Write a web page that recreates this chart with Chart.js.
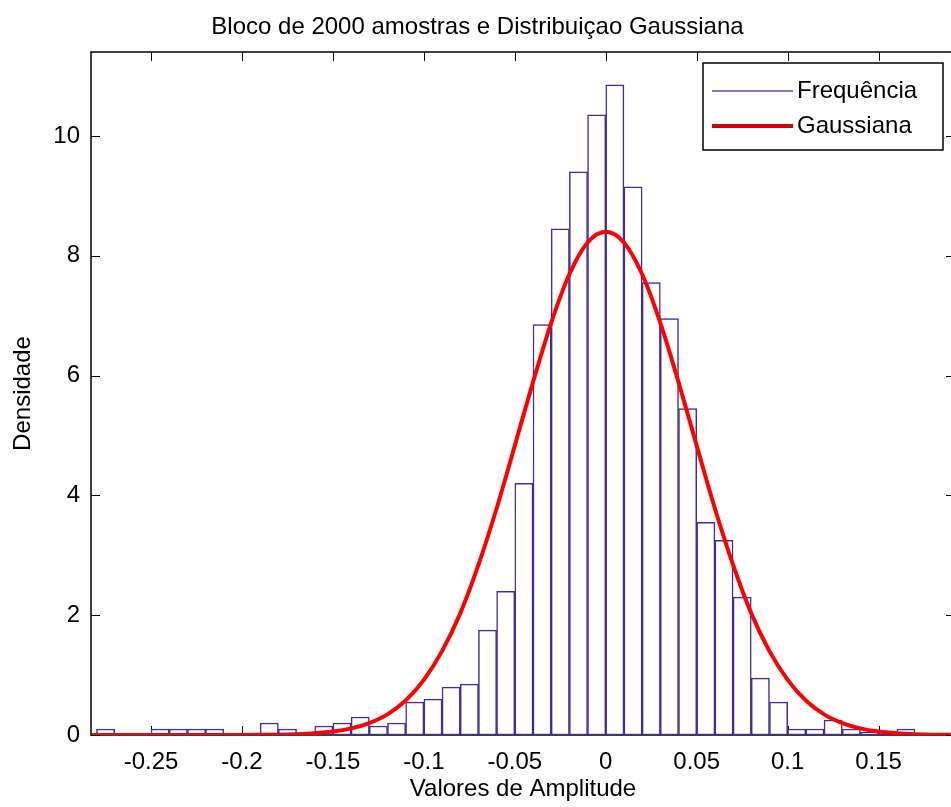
<!DOCTYPE html>
<html>
<head>
<meta charset="utf-8">
<script src="https://cdn.jsdelivr.net/npm/chart.js"></script>
<style>
  html, body { margin: 0; padding: 0; background: #fff; overflow: hidden; }
</style>
</head>
<body>
<canvas id="grafico" width="960" height="807"></canvas>
<script>
// centros das classes do histograma (largura 0.01)
const centros = [-0.275, -0.265, -0.255, -0.245, -0.235, -0.225, -0.215, -0.205, -0.195, -0.185,
                 -0.175, -0.165, -0.155, -0.145, -0.135, -0.125, -0.115, -0.105, -0.095, -0.085,
                 -0.075, -0.065, -0.055, -0.045, -0.035, -0.025, -0.015, -0.005, 0.005, 0.015,
                 0.025, 0.035, 0.045, 0.055, 0.065, 0.075, 0.085, 0.095, 0.105, 0.115,
                 0.125, 0.135, 0.145, 0.155, 0.165];
const densidade = [0.1, 0, 0, 0.1, 0.1, 0.1, 0.1, 0, 0, 0.2,
                   0.1, 0, 0.15, 0.2, 0.3, 0.15, 0.2, 0.55, 0.6, 0.8,
                   0.85, 1.75, 2.4, 4.2, 6.85, 8.45, 9.4, 10.35, 10.85, 9.15,
                   7.55, 6.95, 5.45, 3.55, 3.25, 2.3, 0.95, 0.55, 0.1, 0.1,
                   0.25, 0.1, 0.05, 0.05, 0.1];

// curva gaussiana
const gaussX = [-0.29, -0.28, -0.27, -0.26, -0.25, -0.24, -0.23, -0.22, -0.21, -0.2, -0.19,
                -0.18, -0.17, -0.16, -0.15, -0.14, -0.13, -0.12, -0.11, -0.1, -0.09,
                -0.08, -0.07, -0.06, -0.05, -0.04, -0.03, -0.02, -0.01, 0, 0.01,
                0.02, 0.03, 0.04, 0.05, 0.06, 0.07, 0.08, 0.09, 0.1, 0.11,
                0.12, 0.13, 0.14, 0.15, 0.16, 0.17, 0.18, 0.19, 0.2];
const gaussY = [0, 0, 0, 0, 0, 0, 0, 0, 0, 0.001, 0.003,
                0.006, 0.014, 0.029, 0.057, 0.11, 0.2, 0.345, 0.575, 0.92, 1.4,
                2.03, 2.84, 3.78, 4.83, 5.89, 6.88, 7.69, 8.22, 8.4, 8.22,
                7.69, 6.88, 5.89, 4.83, 3.78, 2.84, 2.03, 1.4, 0.92, 0.575,
                0.345, 0.2, 0.11, 0.057, 0.029, 0.014, 0.006, 0.003, 0.001];

const xTicks = [-0.25, -0.2, -0.15, -0.1, -0.05, 0, 0.05, 0.1, 0.15];
const yTicks = [0, 2, 4, 6, 8, 10];

const fonte = { family: "'Liberation Sans', Arial, sans-serif", size: 24 };
const corBarra = '#3f2c98';
const corCurva = '#ff0000';

// moldura estilo matlab com ticks para dentro
const moldura = {
  id: 'moldura',
  beforeDatasetsDraw(chart) {
    const { ctx, chartArea: a, scales: { x, y } } = chart;
    ctx.save();
    ctx.strokeStyle = '#000';
    ctx.lineWidth = 1.5;
    ctx.strokeRect(a.left, a.top, a.right - a.left, a.bottom - a.top);
    ctx.beginPath();
    x.ticks.forEach(t => {
      const px = Math.round(x.getPixelForValue(t.value)) + 0.5;
      ctx.moveTo(px, a.bottom); ctx.lineTo(px, a.bottom - 9);
      ctx.moveTo(px, a.top); ctx.lineTo(px, a.top + 9);
    });
    y.ticks.forEach(t => {
      const py = Math.round(y.getPixelForValue(t.value)) + 0.5;
      ctx.moveTo(a.left, py); ctx.lineTo(a.left + 9, py);
      ctx.moveTo(a.right, py); ctx.lineTo(a.right - 9, py);
    });
    ctx.lineWidth = 1;
    ctx.stroke();
    ctx.restore();
  },
  afterDatasetsDraw(chart) {
    const ctx = chart.ctx;
    const ds = chart.data.datasets;
    ctx.save();
    ctx.fillStyle = '#fff';
    ctx.fillRect(703, 63, 240, 87);
    ctx.strokeStyle = '#000';
    ctx.lineWidth = 1.5;
    ctx.strokeRect(703, 63, 240, 87);
    const itens = [ds[1], ds[0]];
    itens.forEach((d, i) => {
      const yy = 91 + i * 35;
      ctx.beginPath();
      ctx.strokeStyle = d.legendColor;
      ctx.lineWidth = d.legendWidth;
      ctx.moveTo(712, yy); ctx.lineTo(793, yy);
      ctx.stroke();
      ctx.fillStyle = '#000';
      ctx.font = fonte.size + 'px ' + fonte.family;
      ctx.textBaseline = 'middle';
      ctx.fillText(d.label, 797, yy);
    });
    ctx.restore();
  }
};

new Chart(document.getElementById('grafico'), {
  data: {
    datasets: [{
      type: 'line',
      label: 'Gaussiana',
      data: gaussX.map((v, i) => ({ x: v, y: gaussY[i] })),
      borderColor: corCurva,
      borderWidth: 4,
      pointRadius: 0,
      cubicInterpolationMode: 'monotone',
      legendColor: '#d00000',
      legendWidth: 4,
      order: 0
    }, {
      type: 'bar',
      label: 'Frequência',
      data: centros.map((v, i) => ({ x: v, y: densidade[i] })),
      backgroundColor: '#fff',
      borderColor: corBarra,
      borderWidth: 1.5,
      borderSkipped: false,
      barPercentage: 1,
      categoryPercentage: 1,
      legendColor: '#5848a0',
      legendWidth: 1.5,
      order: 1
    }]
  },
  options: {
    responsive: false,
    animation: false,
    devicePixelRatio: 1,
    layout: { padding: { left: 0, right: 5, top: 0, bottom: 0 } },
    plugins: {
      legend: { display: false },
      tooltip: { enabled: false },
      title: {
        display: true,
        text: 'Bloco de 2000 amostras e Distribuiçao Gaussiana',
        color: '#000',
        font: { family: fonte.family, size: 24, weight: 'normal' },
        padding: { top: 13, bottom: 10.2 }
      }
    },
    scales: {
      x: {
        type: 'linear',
        offset: false,
        min: -0.283,
        max: 0.192,
        afterBuildTicks: s => { s.ticks = xTicks.map(v => ({ value: v })); },
        afterFit: s => { s.height = 72; },
        grid: { display: false },
        border: { display: false },
        ticks: {
          color: '#000',
          font: fonte,
          padding: 5,
          autoSkip: false,
          maxRotation: 0,
          callback: v => String(Number(v.toFixed(2)))
        },
        title: {
          display: true,
          text: 'Valores de Amplitude',
          color: '#000',
          font: fonte,
          padding: { top: 0, bottom: 3 }
        }
      },
      y: {
        min: 0,
        max: 11.4,
        afterBuildTicks: s => { s.ticks = yTicks.map(v => ({ value: v })); },
        afterFit: s => { s.width = 91; },
        grid: { display: false },
        border: { display: false },
        ticks: { color: '#000', font: fonte, padding: 3 },
        title: {
          display: true,
          text: 'Densidade',
          color: '#000',
          font: fonte,
          padding: { top: 9, bottom: 0 }
        }
      }
    }
  },
  plugins: [moldura]
});
</script>
</body>
</html>
